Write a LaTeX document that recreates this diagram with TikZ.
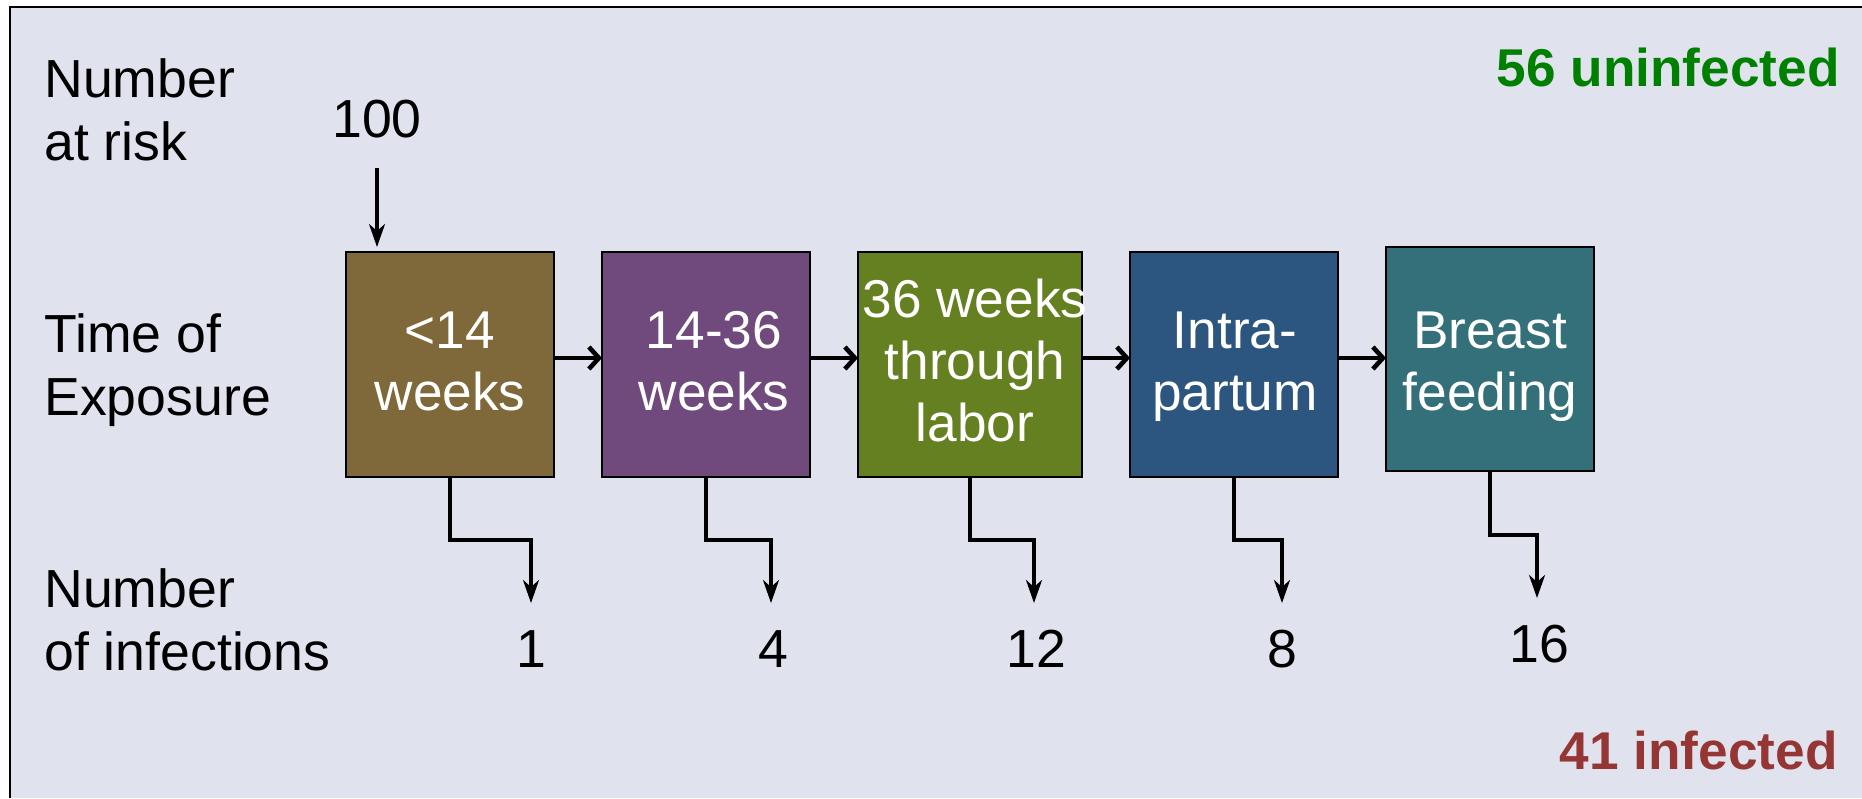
\documentclass[tikz,border=0pt]{standalone}
\usepackage{fontspec}
\setmainfont{Liberation Sans}
\usetikzlibrary{arrows.meta}
\definecolor{bgc}{RGB}{224,227,238}
\definecolor{c1}{RGB}{127,104,57}
\definecolor{c2}{RGB}{112,74,124}
\definecolor{c3}{RGB}{101,128,32}
\definecolor{c4}{RGB}{44,86,128}
\definecolor{c5}{RGB}{52,112,122}
\definecolor{gtext}{RGB}{0,128,0}
\definecolor{rtext}{RGB}{150,54,52}
\begin{document}
\begin{tikzpicture}[x=0.5pt,y=-0.5pt,
  stage/.style={draw=black,line width=0.9pt,minimum width=104pt,minimum height=112.5pt,inner sep=0pt,outer sep=0pt,anchor=north west},
  lab/.style={font=\fontsize{26.8}{31.5}\selectfont,align=left,anchor=base west,inner sep=0pt,text=black},
  wtxt/.style={font=\fontsize{26.6}{31}\selectfont,align=center,anchor=base,inner sep=0pt,text=white},
  num/.style={font=\fontsize{26.8}{31.5}\selectfont,anchor=base,inner sep=0pt,text=black},
  tot/.style={font=\fontsize{26.6}{32}\selectfont\bfseries,anchor=base east,inner sep=0pt},
  dnarrow/.style={line width=1.6pt,-{Stealth[length=11.5pt,width=8pt,inset=3.5pt]}},
  rarrow/.style={line width=2.3pt,-{Straight Barb[length=5pt,width=11pt]}},
]
\useasboundingbox (0,0) rectangle (1862,798);
\fill[white] (0,0) rectangle (1862,798);
\fill[bgc] (10,7) rectangle (1862,798);
\draw[line width=1pt] (10,798) -- (10,7) -- (1862,7);

% left labels (anchor = baseline of last line)
\node[lab] (lrisk) at (44,160) {Number\\at risk};
\node[lab] (ltime) at (44,415) {Time of\\Exposure};
\node[lab] (linf) at (44,670) {Number\\of infections};

% totals
\node[tot,text=gtext] (unin) at (1840,86) {56 uninfected};
\node[tot,text=rtext] (infd) at (1838,769) {41 infected};

% boxes
\node[stage,fill=c1] (b1) at (346,252) {};
\node[stage,fill=c2] (b2) at (602,252) {};
\node[stage,fill=c3,minimum width=112pt] (b3) at (858,252) {};
\node[stage,fill=c4] (b4) at (1130,252) {};
\node[stage,fill=c5,minimum height=112pt] (b5) at (1386,247) {};

% box texts (anchor = baseline of last line)
\node[wtxt] (t1) at (450,410) {<14\\weeks};
\node[wtxt] (t2) at (714,410) {14-36\\weeks};
\node[wtxt] (t3) at (975,441) {36 weeks\\through\\labor};
\node[wtxt] (t4) at (1235,410) {Intra-\\partum};
\node[wtxt] (t5) at (1490,410) {Breast\\feeding};

% number at risk
\node[num] (n100) at (377,137) {100};
\draw[dnarrow,shorten <=15pt,shorten >=2.5pt] (n100.south) -- (n100 |- b1.north);

% arrows between boxes
\coordinate (ay) at (0,358);
\draw[rarrow] (b1.east |- ay) -- (b2.west |- ay);
\draw[rarrow] (b2.east |- ay) -- (b3.west |- ay);
\draw[rarrow] (b3.east |- ay) -- (b4.west |- ay);
\draw[rarrow] (b4.east |- ay) -- (b5.west |- ay);

% infections
\coordinate (e1) at (531,603);
\coordinate (e2) at (771,603);
\coordinate (e3) at (1034,603);
\coordinate (e4) at (1282,603);
\coordinate (e5) at (1537,598);
\draw[dnarrow] (b1.south) -- ++(0,63) -| (e1);
\draw[dnarrow] (b2.south) -- ++(0,63) -| (e2);
\draw[dnarrow] (b3.south) -- ++(0,63) -| (e3);
\draw[dnarrow] (b4.south) -- ++(0,63) -| (e4);
\draw[dnarrow] (b5.south) -- ++(0,64) -| (e5);

\node[num] (i1) at (531,667) {1};
\node[num] (i2) at (773,667) {4};
\node[num] (i3) at (1036,667) {12};
\node[num] (i4) at (1282,667) {8};
\node[num] (i5) at (1539,662) {16};
\end{tikzpicture}
\end{document}
